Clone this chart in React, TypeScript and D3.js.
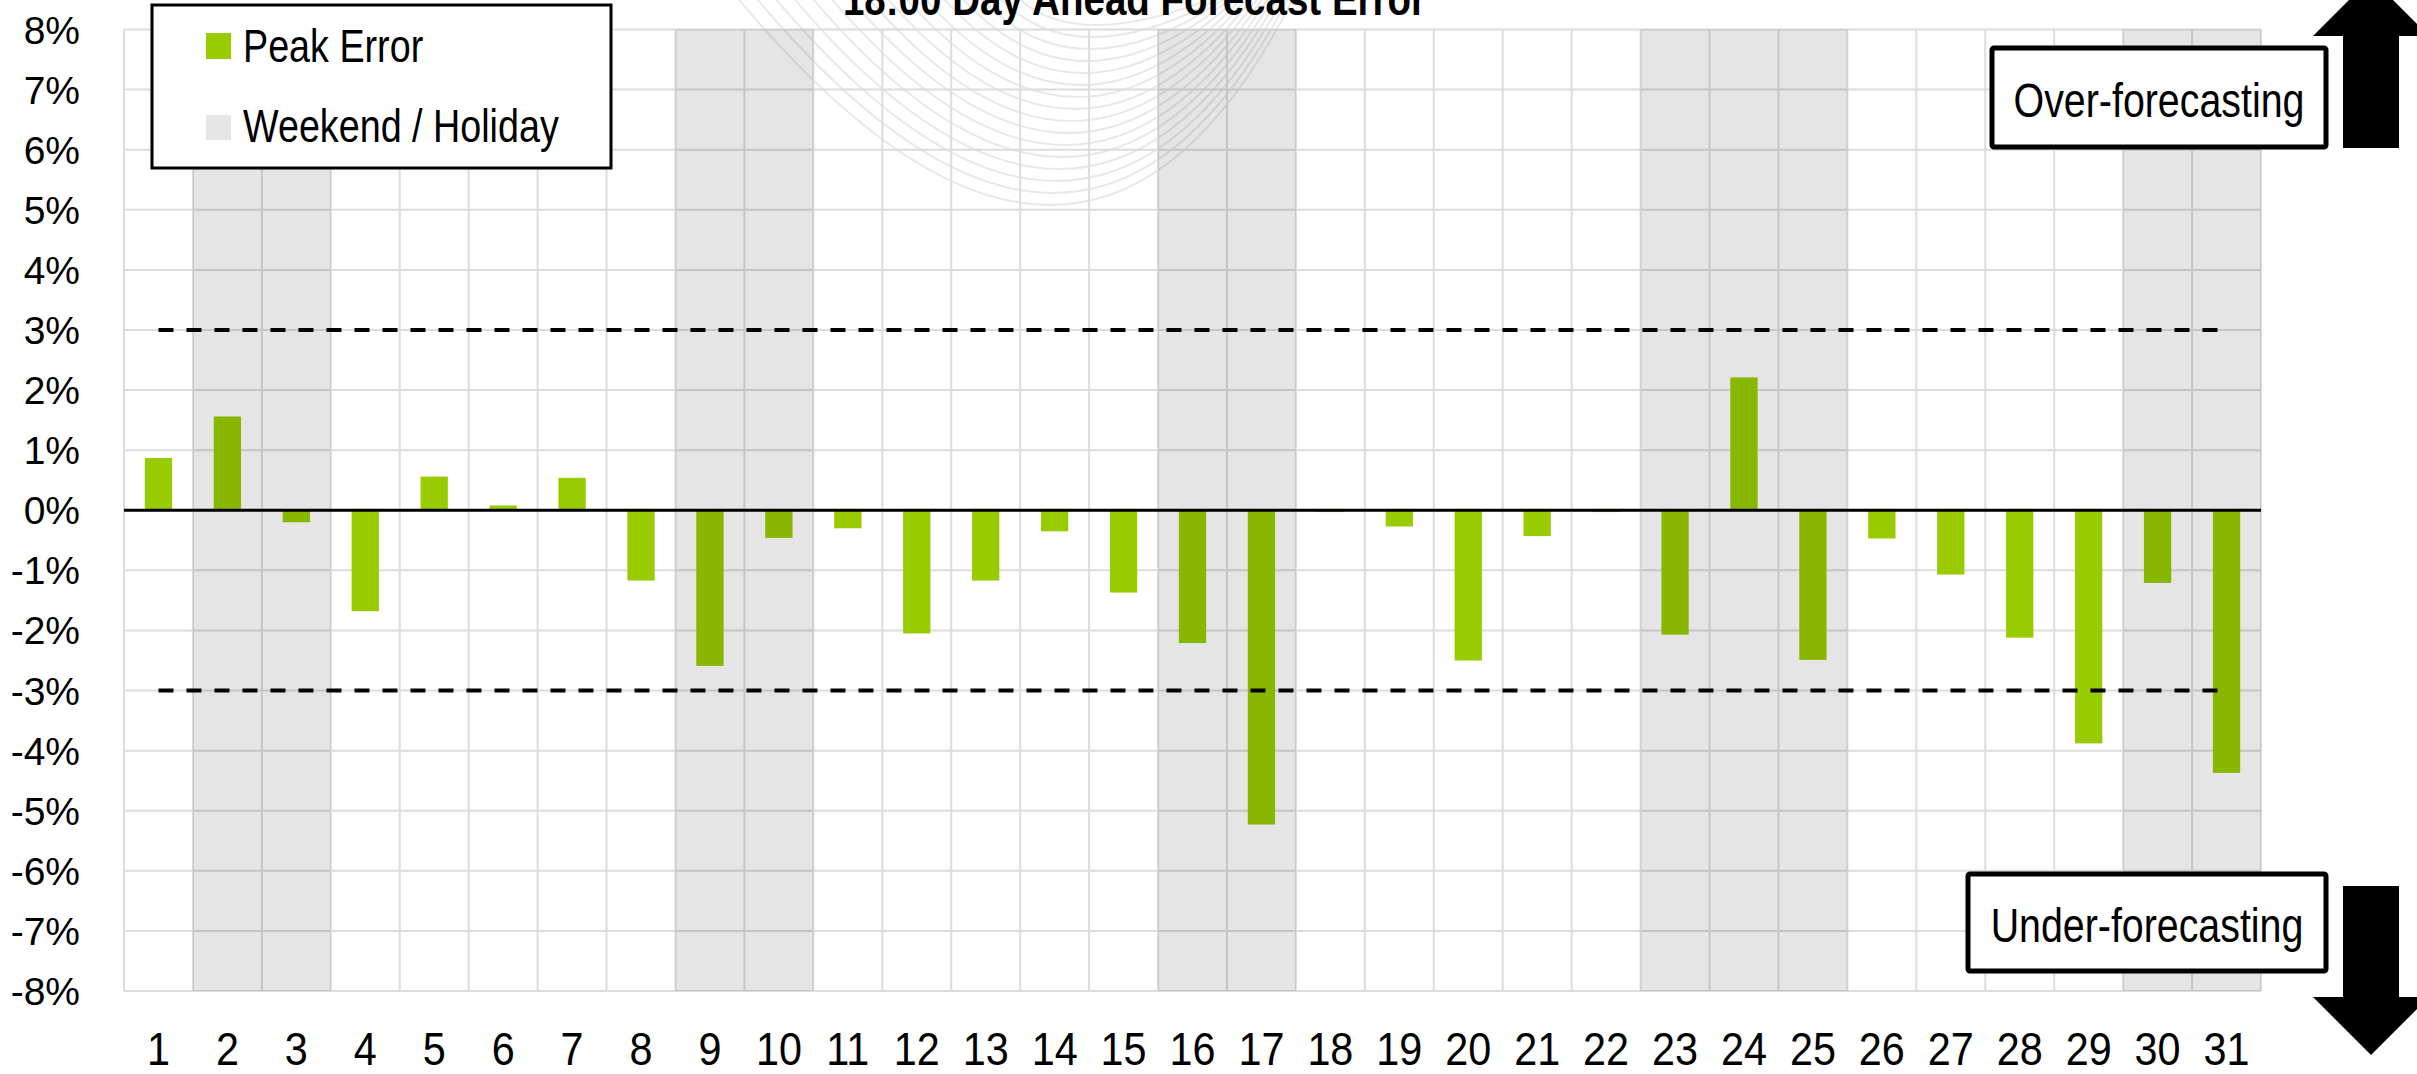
import React from 'react';
import * as d3 from 'd3';

const days = [1, 2, 3, 4, 5, 6, 7, 8, 9, 10, 11, 12, 13, 14, 15, 16, 17, 18, 19, 20, 21, 22, 23, 24, 25, 26, 27, 28, 29, 30, 31];
const peakError = [0.87, 1.56, -0.2, -1.68, 0.56, 0.08, 0.54, -1.17, -2.59, -0.46, -0.3, -2.05, -1.17, -0.35, -1.37, -2.21, -5.23, -0.03, -0.27, -2.5, -0.43, -0.03, -2.07, 2.21, -2.49, -0.47, -1.07, -2.12, -3.88, -1.21, -4.37];
const weekendDays = [2, 3, 9, 10, 16, 17, 23, 24, 25, 30, 31];
const yTicks = [8, 7, 6, 5, 4, 3, 2, 1, 0, -1, -2, -3, -4, -5, -6, -7, -8];
const limits = [3, -3];

const W = 2417;
const H = 1074;
const FONT = '"Liberation Sans", Arial, sans-serif';
const GREEN = '#99CC00';

const App: React.FC = () => {
    const x = d3.scaleBand<number>().domain(days).range([124, 2261]).padding(0);
    const y = d3.scaleLinear().domain([-8, 8]).range([991, 29.5]);
    const bw = x.bandwidth();
    const barW = bw * 0.396;
    const [x0, x1] = x.range();

    // faint watermark curves behind the plot
    const marks = d3.range(16).map((i) => {
        const t = i / 15;
        const sx = 735 + t * 280;
        const ex = 1295 - t * 75;
        const by = 205 - t * 180;
        const cx = 1085 - t * 10;
        return `M${sx},-5 Q${cx},${2 * by + 5} ${ex},-5`;
    });

    const line = d3.line<number>().x((d) => (x(d) as number) + bw / 2).y(0);

    return (
        <svg width={W} height={H} style={{position: 'absolute', left: 0, top: 0, background: '#fff'}}
             fontFamily={FONT}>
            <rect x={0} y={0} width={W} height={H} fill="#fff"/>
            <g fill="none" stroke="#000" strokeOpacity={0.09} strokeWidth={2}>
                {marks.map((d, i) => <path key={i} d={d}/>)}
            </g>

            {/* grid */}
            <g stroke="#DCDCDC" strokeWidth={2}>
                {yTicks.map((t) => <line key={t} x1={x0} x2={x1} y1={y(t)} y2={y(t)}/>)}
                {days.map((d) => <line key={d} x1={x(d)} x2={x(d)} y1={y(8)} y2={y(-8)}/>)}
                <line x1={x1} x2={x1} y1={y(8)} y2={y(-8)}/>
            </g>

            {/* bars */}
            <g fill={GREEN}>
                {days.map((d, i) => {
                    const v = peakError[i];
                    return <rect key={d} x={(x(d) as number) + (bw - barW) / 2} width={barW}
                                 y={y(Math.max(0, v))} height={Math.max(1.5, Math.abs(y(v) - y(0)))}/>;
                })}
            </g>

            {/* weekend / holiday shading */}
            <g fill="#000" fillOpacity={0.1}>
                {weekendDays.map((d) => <rect key={d} x={x(d)} width={bw} y={y(8)} height={y(-8) - y(8)}/>)}
            </g>

            {/* thresholds */}
            {limits.map((l) => (
                <path key={l} d={line([days[0], days[days.length - 1]]) as string}
                      transform={`translate(0,${y(l)})`}
                      stroke="#000" strokeWidth={4} strokeDasharray="15,13" fill="none"/>
            ))}
            <line x1={x0} x2={x1} y1={y(0)} y2={y(0)} stroke="#000" strokeWidth={3}/>

            {/* y axis labels */}
            <g fontSize={39} textAnchor="end" fill="#000">
                {yTicks.map((t) => <text key={t} x={80} y={y(t) + 14}>{`${t}%`}</text>)}
            </g>
            {/* x axis labels */}
            <g fontSize={47} textAnchor="middle" fill="#000">
                {days.map((d) => (
                    <text key={d} transform={`translate(${(x(d) as number) + bw / 2},1065) scale(0.88,1)`}>{d}</text>
                ))}
            </g>

            {/* title */}
            <text transform="translate(1134.5,15) scale(0.82,1)" textAnchor="middle" fontSize={47}
                  fontWeight="bold">18:00 Day Ahead Forecast Error</text>

            {/* legend */}
            <rect x={152} y={5} width={459} height={163} fill="#fff" stroke="#000" strokeWidth={3}/>
            <rect x={206} y={33} width={25} height={26} fill={GREEN}/>
            <text transform="translate(243,62) scale(0.82,1)" fontSize={46}>Peak Error</text>
            <rect x={206} y={115} width={25} height={25} fill="#E6E6E6"/>
            <text transform="translate(243,142) scale(0.82,1)" fontSize={46}>Weekend / Holiday</text>

            {/* over / under annotations */}
            <rect x={1992} y={48} width={334} height={99} fill="#fff" stroke="#000" strokeWidth={5} rx={2}/>
            <text transform="translate(2159,117) scale(0.82,1)" textAnchor="middle" fontSize={48}>Over-forecasting</text>
            <polygon points="2343,148 2343,36 2313,36 2371,-22 2429,36 2399,36 2399,148" fill="#000"/>

            <rect x={1968} y={874} width={358} height={97} fill="#fff" stroke="#000" strokeWidth={5} rx={2}/>
            <text transform="translate(2147,942) scale(0.82,1)" textAnchor="middle" fontSize={48}>Under-forecasting</text>
            <polygon points="2343,886 2343,997 2313,997 2371,1055 2429,997 2399,997 2399,886" fill="#000"/>
        </svg>
    );
};

export default App;
